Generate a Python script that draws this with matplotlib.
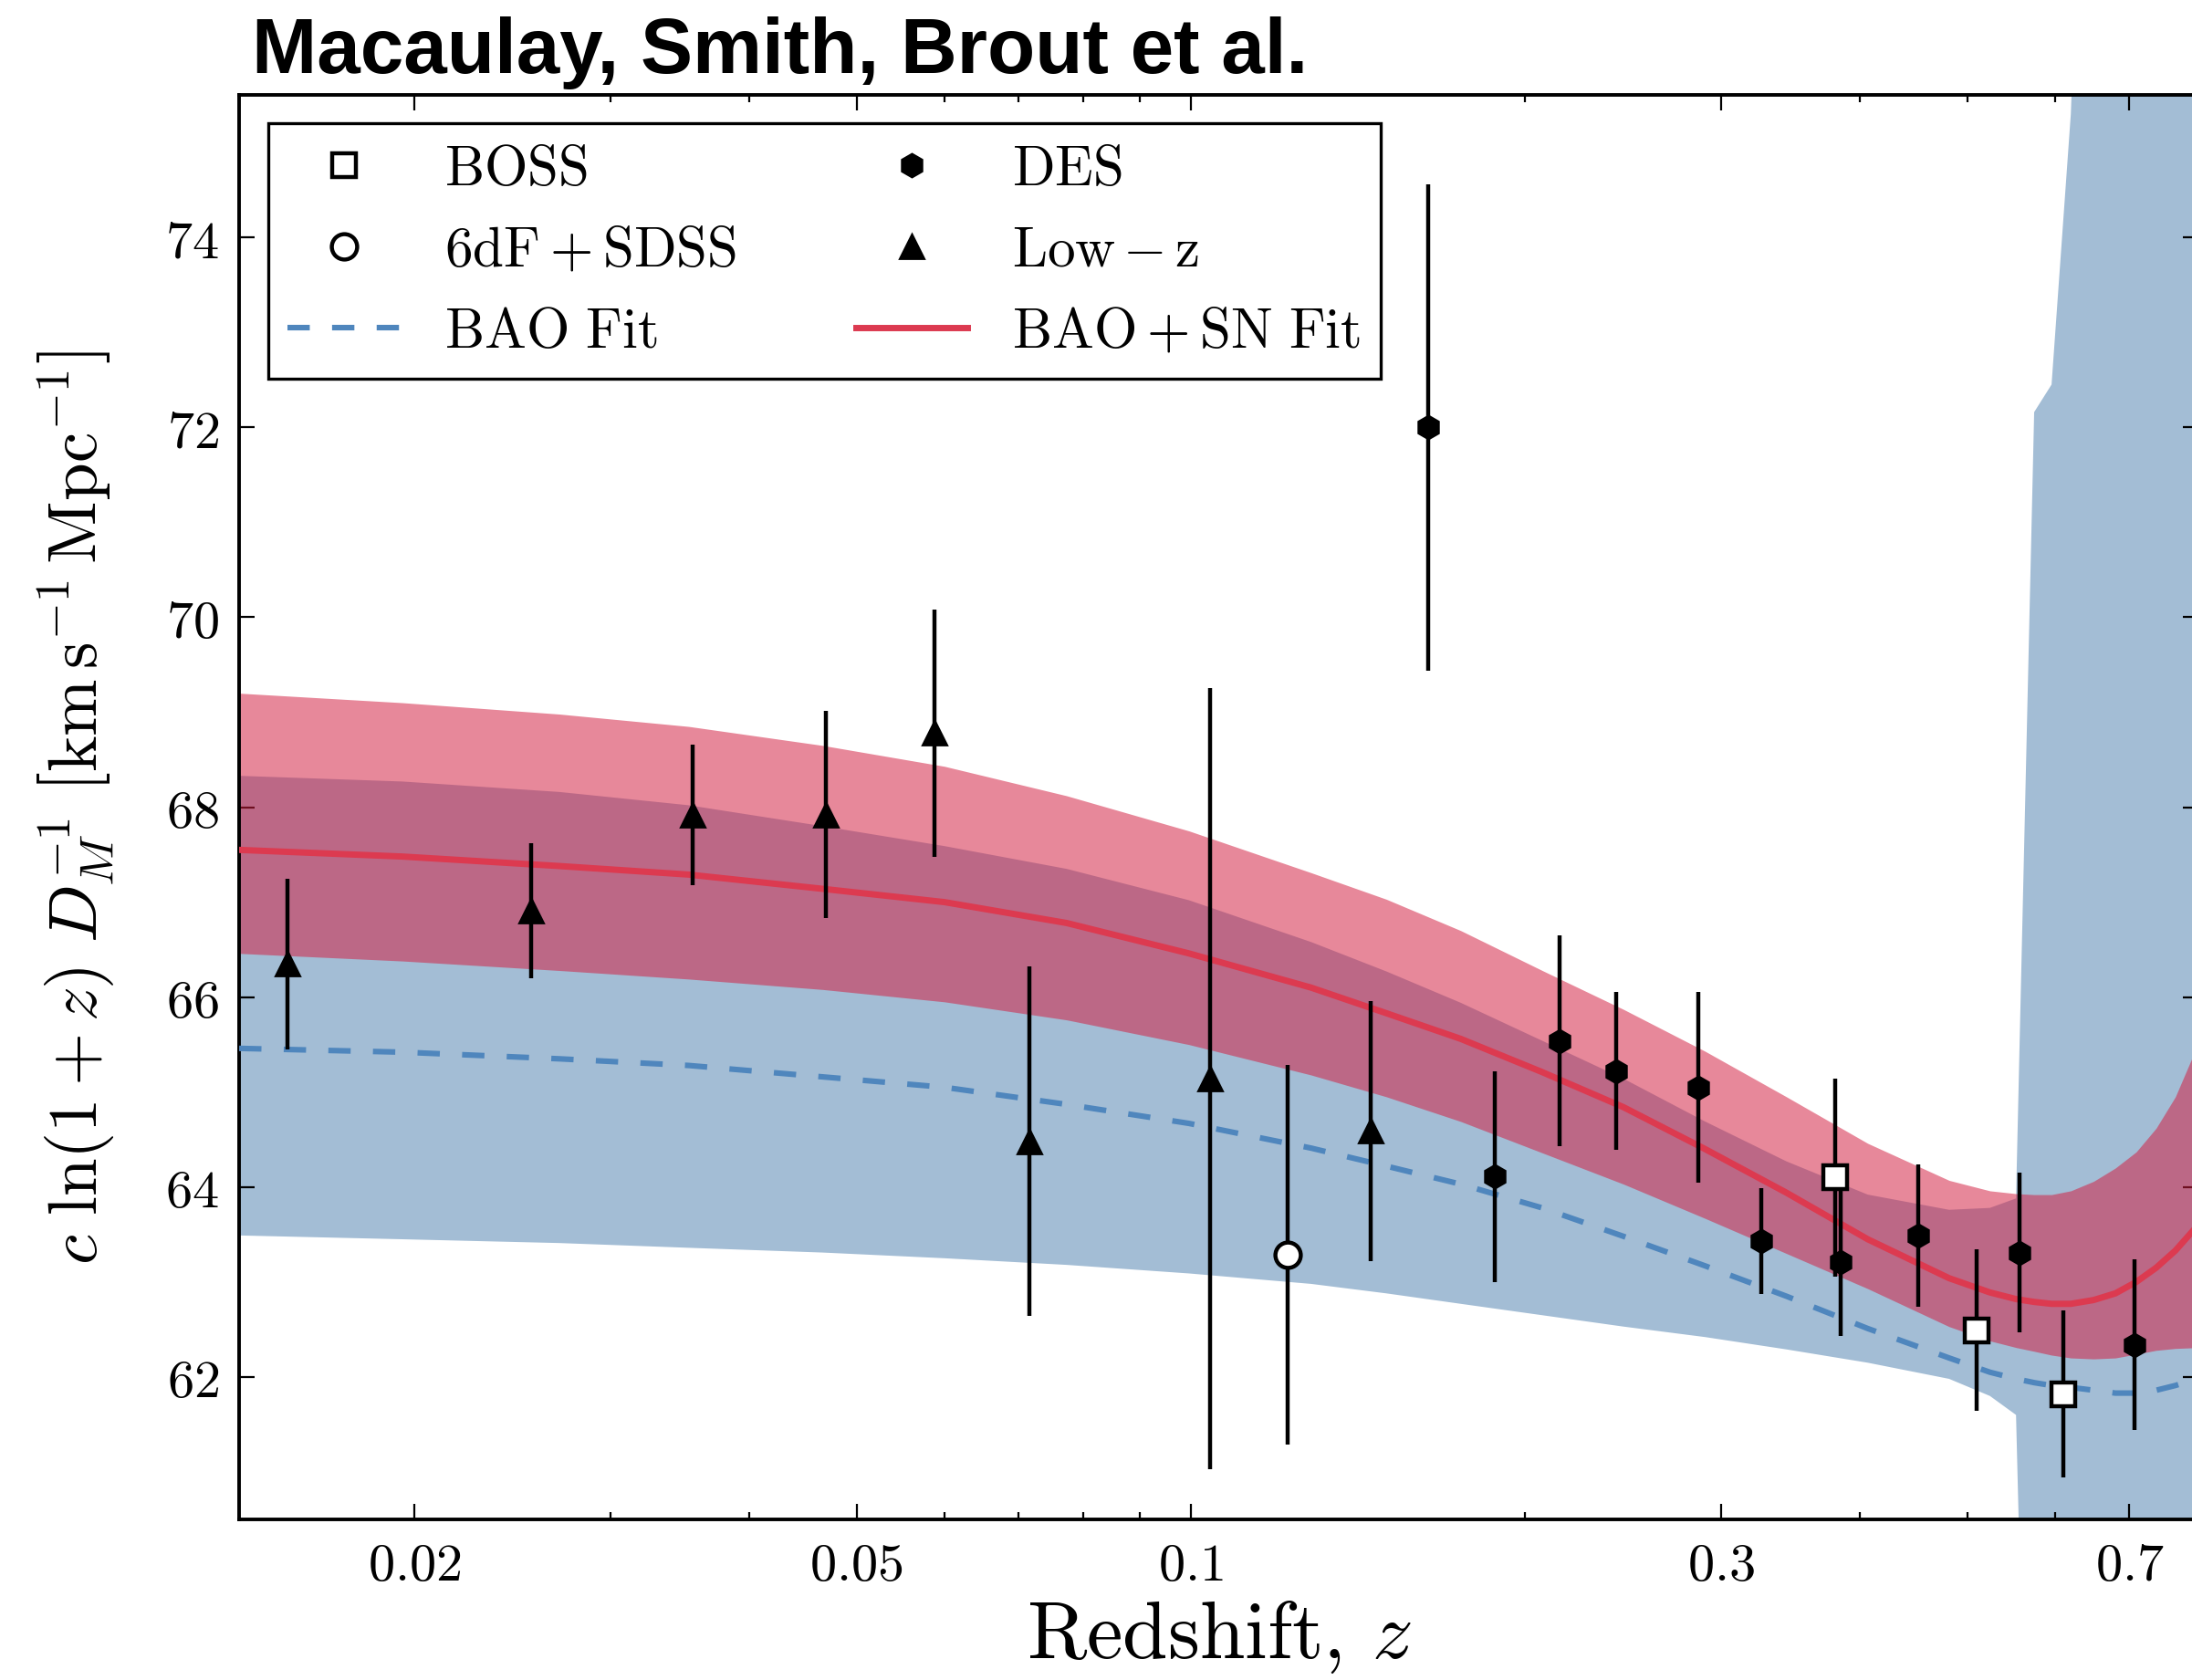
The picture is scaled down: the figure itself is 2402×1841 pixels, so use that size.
import numpy as np
import matplotlib
matplotlib.use('Agg')
import matplotlib.pyplot as plt
from matplotlib.ticker import FixedLocator, NullFormatter

plt.rcParams['mathtext.fontset'] = 'cm'
plt.rcParams['axes.unicode_minus'] = False

# --- data points ---
lowz_z = [0.01536, 0.02544, 0.03556, 0.0469, 0.0588, 0.0716, 0.1041, 0.1451]
lowz_v = [66.35, 66.91, 67.92, 67.92, 68.78, 64.48, 65.14, 64.59]
lowz_e = [0.90, 0.71, 0.74, 1.09, 1.30, 1.84, 4.11, 1.37]

des_z = [0.1636, 0.1878, 0.2149, 0.2414, 0.2865, 0.3264, 0.3848, 0.452, 0.557, 0.7075]
des_v = [72.00, 64.11, 65.54, 65.22, 65.05, 63.43, 63.21, 63.49, 63.31, 62.34]
des_e = [2.56, 1.11, 1.11, 0.83, 1.00, 0.56, 0.78, 0.75, 0.84, 0.90]

boss_z = [0.38, 0.51, 0.61]
boss_v = [64.10, 62.49, 61.82]
boss_e = [1.04, 0.85, 0.88]

sdss_z = [0.1222]
sdss_v = [63.29]
sdss_e = [2.00]

# --- fit curves and bands ---
z_fit = [0.0139, 0.0195, 0.027, 0.0353, 0.0466, 0.06, 0.0773, 0.0996, 0.1283, 0.15,
         0.175, 0.2072, 0.2453, 0.2904, 0.3438, 0.4069, 0.4817, 0.5242, 0.5534, 0.5746,
         0.5957, 0.62, 0.65, 0.68, 0.71, 0.74, 0.77, 0.81]

sn_mid = [67.55, 67.48, 67.38, 67.29, 67.14, 67.00, 66.78, 66.46, 66.10, 65.83,
          65.56, 65.21, 64.84, 64.40, 63.94, 63.45, 63.04, 62.89, 62.82, 62.79,
          62.77, 62.77, 62.81, 62.88, 63.00, 63.15, 63.33, 63.62]
sn_hi = [69.20, 69.10, 68.98, 68.85, 68.65, 68.43, 68.12, 67.75, 67.31, 67.03,
         66.70, 66.28, 65.87, 65.43, 64.95, 64.46, 64.07, 63.96, 63.93, 63.92,
         63.92, 63.96, 64.06, 64.20, 64.37, 64.62, 64.95, 65.55]
sn_lo = [66.46, 66.38, 66.28, 66.19, 66.08, 65.95, 65.76, 65.50, 65.18, 64.95,
         64.69, 64.36, 64.03, 63.67, 63.30, 62.93, 62.53, 62.38, 62.31, 62.27,
         62.23, 62.20, 62.19, 62.20, 62.24, 62.28, 62.30, 62.31]

bao_mid = [65.46, 65.42, 65.35, 65.28, 65.16, 65.05, 64.87, 64.67, 64.41, 64.22,
           64.03, 63.78, 63.48, 63.17, 62.85, 62.51, 62.20, 62.05, 61.98, 61.94,
           61.91, 61.89, 61.86, 61.83, 61.83, 61.86, 61.91, 61.99]
bao_hi = [68.33, 68.27, 68.16, 68.02, 67.80, 67.59, 67.35, 67.02, 66.58, 66.27,
          65.94, 65.54, 65.14, 64.69, 64.27, 63.92, 63.76, 63.78, 63.88, 72.16,
          72.45, 75.30, 82.0, 90.0, 95.0, 100.0, 100.0, 100.0]
bao_lo = [63.49, 63.45, 63.41, 63.36, 63.31, 63.25, 63.18, 63.09, 62.98, 62.88,
          62.77, 62.65, 62.53, 62.42, 62.29, 62.15, 61.98, 61.80, 61.60, 54.0,
          45.0, 40.0, 40.0, 40.0, 40.0, 40.0, 40.0, 40.0]

x_major = [0.02, 0.05, 0.1, 0.3, 0.7]
x_major_labels = ['0.02', '0.05', '0.1', '0.3', '0.7']
x_minor = [0.03, 0.04, 0.06, 0.07, 0.08, 0.09, 0.2, 0.4, 0.5, 0.6, 0.8]
y_major = [62, 64, 66, 68, 70, 72, 74]

fig = plt.figure(figsize=(12.01, 9.205), dpi=200)
ax = fig.add_axes([0.1091, 0.0956, 1.003 - 0.1091, 0.9435 - 0.0956])

# bands: blue first, red translucent on top
ax.fill_between(z_fit, bao_lo, bao_hi, color='#a3bdd5', lw=0, zorder=1)
ax.fill_between(z_fit, sn_lo, sn_hi, color='#d31e40', alpha=0.53, lw=0, zorder=2)
l_bao, = ax.plot(z_fit, bao_mid, color='#4f86bd', lw=2.2, ls=(0, (4, 4)), zorder=3)
l_sn, = ax.plot(z_fit, sn_mid, color='#dc3a50', lw=2.5, zorder=3)

# error bars, then markers on top
for zz, vv, ee in [(lowz_z, lowz_v, lowz_e), (des_z, des_v, des_e),
                   (boss_z, boss_v, boss_e), (sdss_z, sdss_v, sdss_e)]:
    ax.errorbar(zz, vv, yerr=ee, fmt='none', ecolor='black', elinewidth=1.6,
                capsize=0, zorder=4)

m_boss, = ax.plot(boss_z, boss_v, 's', ms=9.7, mfc='white', mec='black', mew=1.6, zorder=5)
m_sdss, = ax.plot(sdss_z, sdss_v, 'o', ms=10, mfc='white', mec='black', mew=1.6, zorder=5)
m_des, = ax.plot(des_z, des_v, 'h', ms=9.0, color='black', zorder=5)
m_lowz, = ax.plot(lowz_z, lowz_v, '^', ms=9.2, color='black', zorder=5)

ax.set_xscale('log')
ax.set_xlim(0.0139, 0.808)
ax.set_ylim(60.5, 75.5)

ax.xaxis.set_major_locator(FixedLocator(x_major))
ax.xaxis.set_minor_locator(FixedLocator(x_minor))
ax.xaxis.set_minor_formatter(NullFormatter())
ax.set_xticklabels([r'$\mathrm{%s}$' % s for s in x_major_labels])
ax.set_yticks(y_major)
ax.set_yticklabels([r'$\mathrm{%d}$' % v for v in y_major])

ax.tick_params(which='both', direction='in', top=True, right=True, width=0.8,
               labelsize=21, pad=8)
ax.tick_params(which='major', length=6)
ax.tick_params(which='minor', length=3)
for sp in ax.spines.values():
    sp.set_linewidth(1.4)

ax.set_xlabel(r'$\mathrm{Redshift,}\,z$', fontsize=32)
ax.xaxis.set_label_coords(0.5, -0.054)
ax.set_ylabel(r'$c\ \ln(1+z)\ D_M^{-1}\ \left[\mathrm{km\,s^{-1}\,Mpc^{-1}}\right]$', fontsize=27)
ax.yaxis.set_label_coords(-0.063, 0.5)

handles = [m_boss, m_sdss, l_bao, m_des, m_lowz, l_sn]
labels = [r'$\mathrm{BOSS}$', r'$\mathrm{6dF+SDSS}$', r'$\mathrm{BAO\ Fit}$',
          r'$\mathrm{DES}$', r'$\mathrm{Low}\,{-}\,\mathrm{z}$', r'$\mathrm{BAO+SN\ Fit}$']
leg = ax.legend(handles, labels, ncol=2, loc='upper left',
                bbox_to_anchor=(0.0149, 0.980), borderaxespad=0, fontsize=22,
                handlelength=2.0, handletextpad=0.8, columnspacing=2.15,
                borderpad=0.35, labelspacing=0.49, fancybox=False, framealpha=1,
                edgecolor='black', numpoints=1)
leg.get_frame().set_linewidth(1.2)

fig.text(276 / 2402, 1 - 80 / 1841, 'Macaulay, Smith, Brout et al.',
         fontfamily='Liberation Sans', fontweight='bold', fontsize=30.8,
         ha='left', va='baseline')

fig.savefig('out.png', dpi=200)
